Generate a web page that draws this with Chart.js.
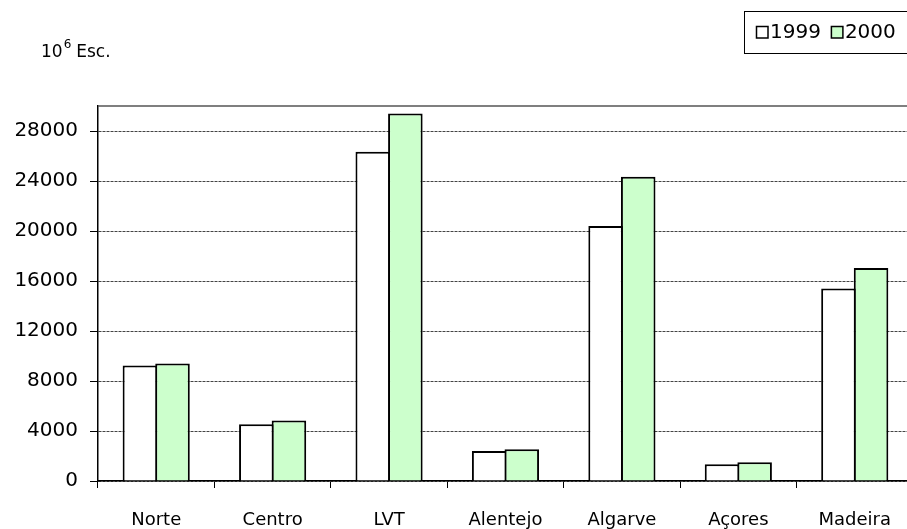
<!DOCTYPE html>
<html>
<head>
<meta charset="utf-8">
<script src="https://cdn.jsdelivr.net/npm/chart.js@4"></script>
<style>
  html, body { margin: 0; padding: 0; background: #fff; overflow: hidden; }
  #wrap { width: 913px; height: 529px; }
</style>
</head>
<body>
<div id="wrap"><canvas id="regionChart"></canvas></div>
<script>
"use strict";

// DATA -----------------------
const regions = ["Norte", "Centro", "LVT", "Alentejo", "Algarve", "Açores", "Madeira"];
const values1999 = [9250, 4550, 26350, 2400, 20400, 1350, 15400];
const values2000 = [9400, 4850, 29400, 2550, 24350, 1500, 17050];
const yTicks = [0, 4000, 8000, 12000, 16000, 20000, 24000, 28000];
const unitLabel = "Esc.";

const FONT = "'DejaVu Sans', Verdana, sans-serif";

// PLUGINS -----------------------
// unit label in the top left corner (10^6 Esc.)
const unitPlugin = {
  id: 'unitLabel',
  afterDraw(chart) {
    const ctx = chart.ctx;
    ctx.save();
    ctx.fillStyle = '#000';
    ctx.textBaseline = 'alphabetic';
    ctx.font = '17px ' + FONT;
    ctx.fillText('10', 41, 57);
    let x = 41 + ctx.measureText('10').width;
    ctx.font = '12px ' + FONT;
    ctx.fillText('6', x + 1, 48);
    x += ctx.measureText('6').width + 6;
    ctx.font = '17px ' + FONT;
    ctx.fillText(unitLabel, x, 57);
    ctx.restore();
  }
};

// boxed legend, top right, partly cut by the page edge
const boxLegendPlugin = {
  id: 'boxLegend',
  afterDraw(chart) {
    const ctx = chart.ctx;
    ctx.save();
    ctx.strokeStyle = '#000';
    ctx.lineWidth = 1;
    ctx.strokeRect(744.5, 11.5, 200, 42);
    ctx.font = '20px ' + FONT;
    ctx.textBaseline = 'middle';
    let x = 756;
    chart.data.datasets.forEach(function(ds) {
      ctx.fillStyle = ds.backgroundColor;
      ctx.fillRect(x, 26, 12, 12);
      ctx.lineWidth = 1.5;
      ctx.strokeStyle = '#000';
      ctx.strokeRect(x + 0.5, 26.5, 11.5, 11.5);
      ctx.fillStyle = '#000';
      ctx.fillText(ds.label, x + 14, 33);
      x += 14 + ctx.measureText(ds.label).width + 10;
    });
    ctx.restore();
  }
};

// top border of the plot area
const plotBorderPlugin = {
  id: 'plotBorder',
  beforeDatasetsDraw(chart) {
    const a = chart.chartArea;
    const ctx = chart.ctx;
    ctx.save();
    ctx.strokeStyle = '#555';
    ctx.lineWidth = 1.5;
    ctx.beginPath();
    ctx.moveTo(a.left, a.top);
    ctx.lineTo(a.right + 10, a.top);
    ctx.stroke();
    ctx.restore();
  }
};

// CHART -----------------------
Chart.defaults.font.family = FONT;
Chart.defaults.color = '#000';

const regionChart = new Chart(document.getElementById('regionChart'), {
  type: 'bar',
  data: {
    labels: regions,
    datasets: [{
      label: '1999',
      data: values1999,
      backgroundColor: '#ffffff',
      borderColor: '#000',
      borderWidth: 2
    }, {
      label: '2000',
      data: values2000,
      backgroundColor: '#ccffcc',
      borderColor: '#000',
      borderWidth: 2
    }]
  },
  options: {
    responsive: true,
    maintainAspectRatio: false,
    animation: false,
    datasets: {
      // slight overlap so neighbouring bars share one border line
      bar: { categoryPercentage: 0.56, barPercentage: 1.06 }
    },
    layout: { padding: { top: 106, left: 0, right: 0, bottom: 0 } },
    plugins: {
      legend: { display: false },
      tooltip: { enabled: false }
    },
    scales: {
      x: {
        grid: {
          drawOnChartArea: false,
          drawTicks: true,
          tickLength: 7,
          tickColor: '#000',
          offset: true
        },
        border: { display: true, color: '#000', width: 1.5 },
        ticks: { font: { size: 18 }, padding: 22, maxRotation: 0 },
        afterFit(scale) { scale.height = 48; }
      },
      y: {
        min: 0,
        max: 30000,
        grid: {
          color: '#444',
          lineWidth: 1,
          drawTicks: true,
          tickLength: 8,
          tickColor: '#000'
        },
        border: { display: true, color: '#000', width: 1.5, dash: [3, 1] },
        ticks: {
          font: { size: 20 },
          padding: 12,
          callback: function(v) { return String(v); }
        },
        afterBuildTicks(scale) {
          scale.ticks = yTicks.map(function(v) { return { value: v }; });
        },
        afterFit(scale) { scale.width = 98; }
      }
    }
  },
  plugins: [unitPlugin, boxLegendPlugin, plotBorderPlugin]
});
</script>
</body>
</html>
